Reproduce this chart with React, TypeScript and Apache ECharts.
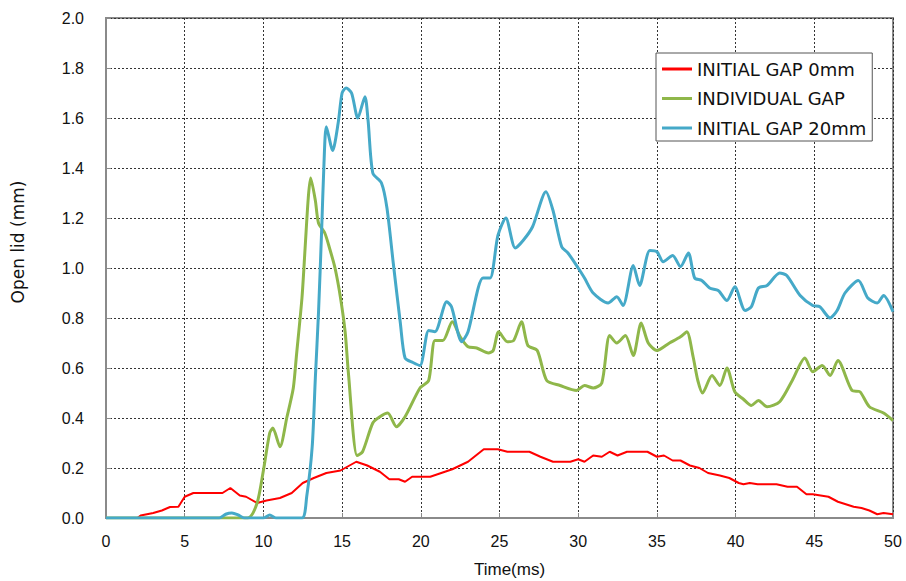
import React, { useEffect, useRef } from "react";
import * as echarts from "echarts";

const xTicks = [0, 5, 10, 15, 20, 25, 30, 35, 40, 45, 50];
const yTicks = [0, 0.2, 0.4, 0.6, 0.8, 1.0, 1.2, 1.4, 1.6, 1.8, 2.0];

const seriesNames = ["INITIAL GAP 0mm", "INDIVIDUAL GAP", "INITIAL GAP 20mm"];

const redX = [0, 2.0, 2.2, 3.0, 3.55, 4.07, 4.6, 5.0, 5.55, 7.4, 7.9, 8.5, 8.9, 9.6, 10.2, 11.05, 11.8, 12.5, 13.2, 14.0, 14.9, 15.9, 16.6, 17.4, 18.0, 18.6, 19.0, 19.45, 20.6, 21.3, 22.0, 22.5, 23.0, 24.0, 24.9, 25.5, 26.9, 27.6, 28.4, 29.5, 30.0, 30.4, 30.95, 31.5, 32.0, 32.5, 33.1, 34.4, 35.0, 35.45, 36.0, 36.5, 37.1, 37.7, 38.25, 39.0, 39.6, 40.2, 40.5, 40.9, 41.4, 42.6, 43.3, 43.9, 44.5, 44.9, 45.9, 46.5, 47.5, 48.0, 48.5, 49.0, 49.4, 50.0];
const redY = [0, 0, 0.01, 0.02, 0.03, 0.044, 0.045, 0.085, 0.1, 0.1, 0.12, 0.09, 0.085, 0.06, 0.07, 0.08, 0.1, 0.14, 0.16, 0.18, 0.19, 0.225, 0.21, 0.185, 0.155, 0.155, 0.145, 0.165, 0.165, 0.18, 0.195, 0.21, 0.225, 0.275, 0.275, 0.265, 0.265, 0.245, 0.225, 0.225, 0.235, 0.225, 0.25, 0.245, 0.265, 0.25, 0.265, 0.265, 0.245, 0.25, 0.23, 0.23, 0.21, 0.2, 0.18, 0.17, 0.16, 0.14, 0.135, 0.14, 0.135, 0.135, 0.125, 0.125, 0.095, 0.095, 0.085, 0.065, 0.045, 0.04, 0.03, 0.015, 0.02, 0.015];

const greenX = [0, 9.0, 9.6, 10.0, 10.4, 10.6, 11.05, 11.5, 11.9, 12.1, 12.45, 12.65, 12.85, 13.0, 13.3, 13.5, 13.9, 14.2, 14.55, 14.9, 15.2, 15.4, 15.95, 16.3, 16.95, 17.4, 17.9, 18.45, 19.0, 19.95, 20.5, 20.9, 21.4, 22.0, 22.5, 23.0, 23.55, 24.3, 24.6, 24.95, 25.5, 25.9, 26.4, 26.8, 27.4, 28.0, 28.85, 29.9, 30.4, 30.95, 31.5, 32.0, 32.45, 33.0, 33.5, 34.0, 34.45, 35.0, 35.8, 36.5, 36.9, 37.3, 37.6, 37.9, 38.5, 39.0, 39.45, 39.95, 40.5, 41.0, 41.45, 42.0, 42.8, 43.6, 44.4, 44.9, 45.5, 46.0, 46.5, 47.4, 47.9, 48.5, 49.4, 50.0];
const greenY = [0, 0, 0.06, 0.19, 0.34, 0.36, 0.285, 0.405, 0.52, 0.65, 0.88, 1.08, 1.28, 1.36, 1.27, 1.18, 1.14, 1.08, 1.0, 0.88, 0.74, 0.58, 0.25, 0.265, 0.38, 0.405, 0.42, 0.365, 0.405, 0.52, 0.55, 0.71, 0.71, 0.785, 0.725, 0.685, 0.68, 0.66, 0.67, 0.745, 0.705, 0.71, 0.785, 0.69, 0.67, 0.55, 0.53, 0.51, 0.53, 0.52, 0.54, 0.73, 0.7, 0.73, 0.65, 0.78, 0.7, 0.67, 0.7, 0.725, 0.745, 0.645, 0.55, 0.5, 0.57, 0.53, 0.6, 0.505, 0.475, 0.45, 0.47, 0.445, 0.465, 0.55, 0.64, 0.585, 0.61, 0.57, 0.63, 0.51, 0.505, 0.445, 0.42, 0.39];

const blueX = [0, 7.2, 7.6, 8.0, 8.4, 8.8, 10.0, 10.4, 10.8, 12.45, 12.75, 13.1, 13.3, 13.5, 13.7, 13.85, 14.0, 14.4, 14.75, 15.0, 15.25, 15.6, 16.0, 16.45, 16.65, 16.95, 17.5, 17.85, 18.25, 18.7, 19.0, 19.5, 19.95, 20.5, 20.9, 21.65, 21.95, 22.6, 23.0, 23.95, 24.4, 24.9, 25.4, 26.0, 26.5, 27.1, 27.95, 28.4, 28.95, 29.35, 30.0, 30.4, 30.95, 31.9, 32.45, 32.85, 33.5, 33.9, 34.55, 35.0, 35.4, 36.0, 36.5, 37.0, 37.4, 37.85, 38.35, 38.9, 39.45, 39.95, 40.6, 41.0, 41.45, 42.0, 42.8, 43.25, 44.1, 44.9, 45.35, 46.0, 46.45, 46.95, 47.8, 48.4, 49.0, 49.4, 50.0];
const blueY = [0, 0, 0.015, 0.02, 0.012, 0, 0, 0.012, 0, 0, 0.085, 0.285, 0.56, 0.82, 1.15, 1.42, 1.565, 1.47, 1.58, 1.7, 1.72, 1.7, 1.6, 1.685, 1.59, 1.38, 1.34, 1.24, 1.02, 0.78, 0.64, 0.622, 0.61, 0.75, 0.745, 0.865, 0.845, 0.705, 0.745, 0.96, 0.96, 1.13, 1.2, 1.08, 1.11, 1.165, 1.305, 1.23, 1.085, 1.06, 1.0, 0.96, 0.9, 0.86, 0.885, 0.85, 1.01, 0.93, 1.07, 1.065, 1.025, 1.05, 1.005, 1.06, 0.96, 0.95, 0.92, 0.91, 0.87, 0.925, 0.83, 0.845, 0.92, 0.93, 0.98, 0.97, 0.89, 0.85, 0.845, 0.8, 0.83, 0.9, 0.95, 0.88, 0.86, 0.89, 0.825];

const zip = (xs: number[], ys: number[]) => xs.map((x, i) => [x, ys[i]]);

const FONT = "Liberation Sans, Arial, sans-serif";
const WIDE = "DejaVu Sans, sans-serif";

export default function App() {
  const ref = useRef<HTMLDivElement>(null);
  useEffect(() => {
    if (!ref.current) return;
    const chart = echarts.init(ref.current, undefined, { renderer: "svg" });
    const gridLine = { show: true, lineStyle: { color: "#333", width: 1, type: [2, 2] as any } };
    chart.setOption({
      animation: false,
      backgroundColor: "#fff",
      grid: {
        left: 106, right: 13, top: 18, bottom: 63,
        outerBoundsMode: "none",
        containLabel: false,
        show: true, borderColor: "#8a8a8a", borderWidth: 2, backgroundColor: "transparent",
      },
      legend: {
        orient: "vertical",
        left: 656, top: 53,
        data: seriesNames,
        backgroundColor: "#fff",
        borderColor: "#555",
        borderWidth: 1,
        padding: [7, 6, 4, 6],
        itemWidth: 30,
        itemHeight: 3,
        itemGap: 11.5,
        icon: "rect",
        textStyle: { fontFamily: WIDE, fontSize: 18, color: "#111", lineHeight: 18 },
      },
      xAxis: {
        type: "value",
        min: 0, max: 50, interval: 5,
        name: "Time(ms)",
        nameLocation: "middle",
        nameGap: 43,
        nameTextStyle: { fontFamily: FONT, fontSize: 17, color: "#111", padding: [0, 0, 0, 20] },
        axisLine: { show: true, lineStyle: { color: "#8a8a8a", width: 2 } },
        axisTick: { show: true, inside: true, length: 5, lineStyle: { color: "#8a8a8a" } },
        axisLabel: { fontFamily: FONT, fontSize: 16, color: "#111", margin: 15 },
        splitLine: gridLine,
      },
      yAxis: {
        type: "value",
        min: 0, max: 2, interval: 0.2,
        axisLine: { show: true, lineStyle: { color: "#8a8a8a", width: 2 } },
        axisTick: { show: true, inside: true, length: 5, lineStyle: { color: "#8a8a8a" } },
        axisLabel: {
          fontFamily: FONT, fontSize: 16, color: "#111", margin: 22,
          formatter: (v: number) => v.toFixed(1),
        },
        splitLine: gridLine,
      },
      graphic: [
        {
          type: "text",
          x: 18, y: 242,
          rotation: Math.PI / 2,
          style: {
            text: "Open lid (mm)",
            fontFamily: WIDE, fontSize: 17, fill: "#111",
            align: "center", verticalAlign: "middle",
          },
        },
      ],
      series: [
        {
          name: seriesNames[0], type: "line", data: zip(redX, redY),
          showSymbol: false, smooth: false,
          lineStyle: { color: "#ff0000", width: 2 }, itemStyle: { color: "#ff0000" },
        },
        {
          name: seriesNames[1], type: "line", data: zip(greenX, greenY),
          showSymbol: false, smooth: 0.25,
          lineStyle: { color: "#8fb74a", width: 3 }, itemStyle: { color: "#8fb74a" },
        },
        {
          name: seriesNames[2], type: "line", data: zip(blueX, blueY),
          showSymbol: false, smooth: 0.25,
          lineStyle: { color: "#45a9c8", width: 3 }, itemStyle: { color: "#45a9c8" },
        },
      ],
    });
    return () => chart.dispose();
  }, []);
  return <div ref={ref} style={{ width: 906, height: 581, position: "absolute", left: 0, top: 0 }} />;
}
